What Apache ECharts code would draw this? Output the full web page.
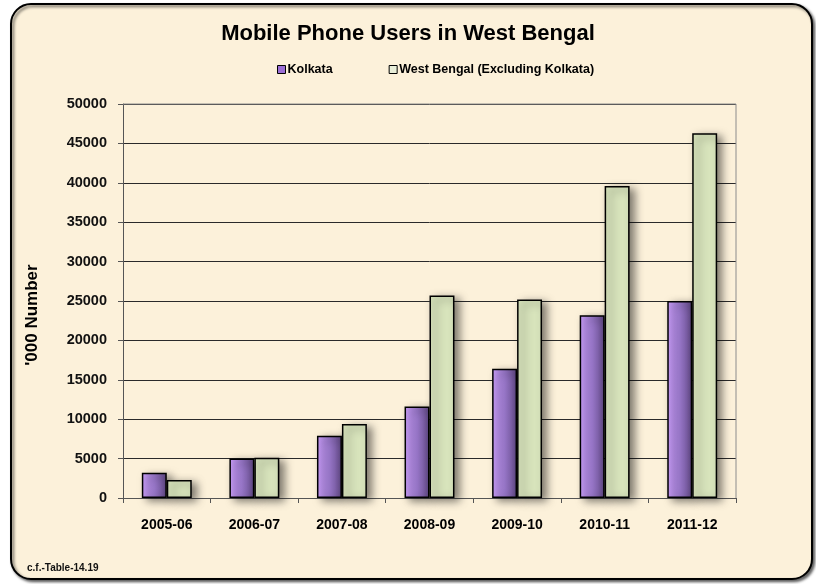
<!DOCTYPE html>
<html>
<head>
<meta charset="utf-8">
<script src="https://cdn.jsdelivr.net/npm/echarts@6/dist/echarts.min.js"></script>
<style>
  html, body { margin: 0; padding: 0; background: #fff; }
  #main { width: 816px; height: 584px; }
</style>
</head>
<body>
<div id="main"></div>
<script>
// data
const years = ['2005-06', '2006-07', '2007-08', '2008-09', '2009-10', '2010-11', '2011-12']
const kolkata = [3200, 5000, 7900, 11600, 16400, 23200, 25000]
const westBengal = [2300, 5100, 9400, 25700, 25200, 39600, 46300]
const yTicks = [0, 5000, 10000, 15000, 20000, 25000, 30000, 35000, 40000, 45000, 50000]

const font = 'Arial, "Liberation Sans", sans-serif'
const myChart = echarts.init(document.getElementById('main'))

const barShadow = {
  shadowColor: 'rgba(0,0,0,0.5)',
  shadowBlur: 8,
  shadowOffsetX: 5,
  shadowOffsetY: 3,
}

myChart.setOption({
  backgroundColor: '#fff',
  animation: false,
  graphic: [
    {
      type: 'rect',
      z: -10,
      shape: { x: 11, y: 4, width: 801, height: 575, r: 20 },
      style: {
        fill: '#FCF1DA',
        stroke: '#000',
        lineWidth: 2,
        shadowBlur: 3,
        shadowOffsetX: 2,
        shadowOffsetY: 2,
        shadowColor: 'rgba(0,0,0,0.6)',
      },
    },
    {
      type: 'text',
      left: 27,
      top: 563,
      style: { text: 'c.f.-Table-14.19', font: `bold 10px ${font}`, fill: '#111' },
    },
    {
      // y axis title
      type: 'text',
      x: 32,
      y: 315,
      rotation: Math.PI / 2,
      style: {
        text: "'000 Number",
        font: `bold 17px ${font}`,
        fill: '#000',
        align: 'center',
        verticalAlign: 'middle',
      },
    },
    {
      // plot area border (top + right)
      type: 'polyline',
      z: 1,
      shape: { points: [[123, 104], [736, 104], [736, 498]] },
      style: { stroke: '#8c8c8c', lineWidth: 1, fill: null },
    },
  ],
  title: {
    text: 'Mobile Phone Users in West Bengal',
    left: 'center',
    top: 18,
    textStyle: { fontFamily: font, fontWeight: 'bold', fontSize: 22, color: '#000' },
  },
  legend: {
    top: 58,
    left: 272,
    itemGap: 56,
    itemWidth: 8,
    itemHeight: 8,
    icon: 'rect',
    textStyle: { fontFamily: font, fontWeight: 'bold', fontSize: 12.5, color: '#000', padding: [0, 0, 0, -3] },
    data: [
      { name: 'Kolkata', itemStyle: { color: '#9B6FD6', borderColor: '#000', borderWidth: 1 } },
      { name: 'West Bengal (Excluding Kolkata)', itemStyle: { color: '#E8EED8', borderColor: '#000', borderWidth: 1 } },
    ],
  },
  grid: { left: 123, right: 80, top: 104, bottom: 86 },
  xAxis: {
    type: 'category',
    data: years,
    axisLine: { lineStyle: { color: '#555', width: 1 } },
    axisTick: { show: true, length: 5, lineStyle: { color: '#555' } },
    axisLabel: { margin: 20, fontFamily: font, fontWeight: 'bold', fontSize: 14, color: '#000' },
  },
  yAxis: {
    type: 'value',
    min: yTicks[0],
    max: yTicks[yTicks.length - 1],
    interval: 5000,
    axisLine: { show: true, lineStyle: { color: '#555' } },
    axisTick: { show: true, length: 5, lineStyle: { color: '#555' } },
    axisLabel: {
      margin: 16,
      fontFamily: font,
      fontWeight: 'bold',
      fontSize: 14.5,
      color: '#111',
      formatter: (v) => String(v),
    },
    splitLine: { lineStyle: { color: '#2a2a2a', width: 1 } },
  },
  series: [
    {
      name: 'Kolkata',
      type: 'bar',
      data: kolkata,
      barGap: '0%',
      barCategoryGap: '43%',
      itemStyle: {
        color: {
          type: 'linear', x: 0, y: 0, x2: 1, y2: 0,
          colorStops: [
            { offset: 0, color: '#CDA0FE' },
            { offset: 0.5, color: '#9A78CB' },
            { offset: 1, color: '#5F4783' },
          ],
        },
        borderColor: '#000',
        borderWidth: 1.5,
        ...barShadow,
      },
    },
    {
      name: 'West Bengal (Excluding Kolkata)',
      type: 'bar',
      data: westBengal,
      itemStyle: {
        color: '#D8E4BC',
        borderColor: '#000',
        borderWidth: 1.5,
        ...barShadow,
      },
    },
  ],
})
</script>
</body>
</html>
